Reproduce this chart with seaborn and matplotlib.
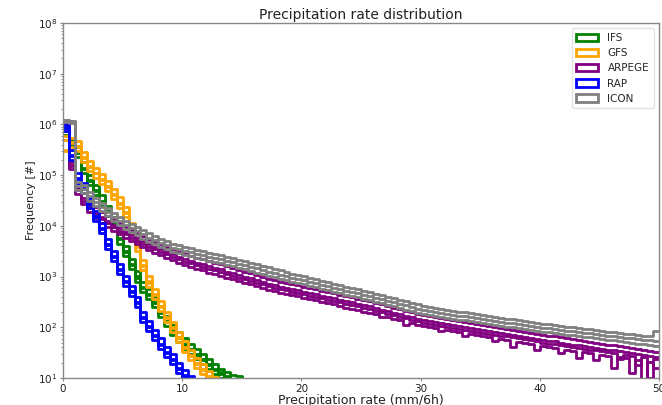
import numpy as np
import pandas as pd
import matplotlib
matplotlib.use("Agg")
import matplotlib.pyplot as plt
from matplotlib.patches import Patch
import seaborn as sns

# ---------------- data (log10 of counts per 0.5 mm/6h bin) ----------------
bin_width = 0.5
rate_range = (0, 50)

models = ["IFS", "GFS", "ARPEGE", "RAP", "ICON"]
colors = ["green", "orange", "purple", "blue", "gray"]

ifs_members = [
    [5.92, 5.60, 5.45, 5.15, 4.90, 4.70, 4.50, 4.30, 4.08, 3.76, 3.50, 3.25, 3.01, 2.80, 2.66, 2.50, 2.31, 2.12, 1.95, 1.81, 1.68, 1.58, 1.48, 1.38, 1.28, 1.18, 1.11, 1.04, 0.90],
    [5.80, 5.50, 5.35, 5.05, 4.80, 4.60, 4.40, 4.20, 3.97, 3.65, 3.40, 3.15, 2.90, 2.70, 2.56, 2.40, 2.21, 2.02, 1.85, 1.71, 1.58, 1.48, 1.38, 1.28, 1.18, 1.08, 1.00, 0.90],
    [5.97, 5.70, 5.55, 5.25, 5.00, 4.80, 4.60, 4.40, 4.18, 3.86, 3.60, 3.35, 3.11, 2.90, 2.76, 2.60, 2.41, 2.22, 2.05, 1.91, 1.78, 1.68, 1.58, 1.48, 1.38, 1.28, 1.18, 1.12, 1.06, 1.04, 0.90],
    [5.88, 5.58, 5.43, 5.13, 4.88, 4.68, 4.48, 4.28, 4.06, 3.74, 3.48, 3.23, 2.98, 2.78, 2.64, 2.48, 2.28, 2.10, 1.93, 1.78, 1.66, 1.55, 1.46, 1.36, 1.25, 1.15, 1.08, 1.00],
]

gfs_members = [
    [5.70, 5.64, 5.58, 5.36, 5.19, 5.05, 4.93, 4.79, 4.62, 4.46, 4.28, 3.96, 3.61, 3.22, 2.91, 2.66, 2.42, 2.21, 2.00, 1.81, 1.62, 1.46, 1.30, 1.18, 1.04],
    [5.50, 5.55, 5.47, 5.25, 5.08, 4.95, 4.82, 4.68, 4.52, 4.35, 4.17, 3.85, 3.50, 3.12, 2.80, 2.55, 2.32, 2.10, 1.90, 1.71, 1.52, 1.36, 1.20, 1.08, 0.90],
    [5.78, 5.74, 5.68, 5.46, 5.28, 5.15, 5.02, 4.88, 4.72, 4.56, 4.38, 4.06, 3.71, 3.32, 3.01, 2.76, 2.52, 2.31, 2.10, 1.91, 1.72, 1.56, 1.40, 1.28, 1.14, 1.02, 0.90],
    [5.48, 5.66, 5.56, 5.33, 5.16, 5.04, 4.90, 4.76, 4.60, 4.43, 4.25, 3.93, 3.58, 3.20, 2.88, 2.63, 2.40, 2.18, 1.98, 1.78, 1.60, 1.43, 1.28, 1.15, 1.00],
]

arpege_members = [
    [6.03, 5.25, 4.85, 4.65, 4.50, 4.38, 4.28, 4.20, 4.12, 4.05,
     3.98, 3.92, 3.86, 3.80, 3.74, 3.69, 3.64, 3.59, 3.54, 3.49,
     3.44, 3.41, 3.37, 3.34, 3.30, 3.27, 3.24, 3.20, 3.17, 3.13,
     3.10, 3.07, 3.03, 3.00, 2.96, 2.93, 2.90, 2.88, 2.85, 2.83,
     2.80, 2.77, 2.75, 2.72, 2.69, 2.67, 2.64, 2.61, 2.59, 2.56,
     2.53, 2.51, 2.48, 2.45, 2.42, 2.39, 2.36, 2.33, 2.30, 2.27,
     2.24, 2.22, 2.20, 2.18, 2.16, 2.14, 2.12, 2.10, 2.08, 2.06,
     2.04, 2.02, 2.00, 1.98, 1.97, 1.95, 1.93, 1.91, 1.89, 1.87,
     1.85, 1.83, 1.82, 1.80, 1.78, 1.76, 1.75, 1.73, 1.71, 1.70,
     1.68, 1.66, 1.65, 1.63, 1.61, 1.59, 1.58, 1.56, 1.54, 1.52],
    [5.98, 5.12, 4.63, 4.43, 4.28, 4.16, 4.06, 3.98, 3.90, 3.83,
     3.76, 3.70, 3.64, 3.58, 3.52, 3.47, 3.42, 3.37, 3.32, 3.27,
     3.22, 3.19, 3.15, 3.12, 3.08, 3.05, 3.02, 2.98, 2.95, 2.91,
     2.88, 2.85, 2.81, 2.78, 2.74, 2.71, 2.68, 2.66, 2.63, 2.61,
     2.58, 2.55, 2.53, 2.50, 2.47, 2.45, 2.42, 2.39, 2.37, 2.34,
     2.31, 2.29, 2.26, 2.20, 2.20, 2.17, 2.14, 2.05, 2.08, 2.05,
     2.02, 2.00, 1.98, 1.92, 1.94, 1.92, 1.90, 1.82, 1.86, 1.84,
     1.82, 1.80, 1.72, 1.76, 1.75, 1.62, 1.71, 1.69, 1.67, 1.55,
     1.63, 1.61, 1.60, 1.50, 1.56, 1.54, 1.40, 1.51, 1.49, 1.35,
     1.46, 1.44, 1.20, 1.41, 1.39, 1.10, 1.36, 0.95, 1.32, 1.20],
    [6.00, 5.18, 4.70, 4.50, 4.35, 4.23, 4.13, 4.05, 3.97, 3.90,
     3.83, 3.77, 3.71, 3.65, 3.59, 3.54, 3.49, 3.44, 3.39, 3.34,
     3.29, 3.26, 3.22, 3.19, 3.15, 3.12, 3.09, 3.05, 3.02, 2.98,
     2.95, 2.92, 2.88, 2.85, 2.81, 2.78, 2.75, 2.73, 2.70, 2.68,
     2.65, 2.62, 2.60, 2.57, 2.54, 2.52, 2.49, 2.46, 2.44, 2.41,
     2.38, 2.36, 2.33, 2.30, 2.27, 2.24, 2.21, 2.18, 2.15, 2.12,
     2.09, 2.07, 2.05, 2.03, 2.01, 1.99, 1.97, 1.95, 1.93, 1.91,
     1.89, 1.87, 1.85, 1.83, 1.82, 1.80, 1.78, 1.76, 1.74, 1.72,
     1.70, 1.68, 1.67, 1.65, 1.63, 1.61, 1.60, 1.58, 1.56, 1.55,
     1.53, 1.51, 1.50, 1.38, 1.46, 1.44, 1.25, 1.41, 1.00, 1.37],
    [6.02, 5.20, 4.75, 4.55, 4.40, 4.28, 4.18, 4.10, 4.02, 3.95,
     3.88, 3.82, 3.76, 3.70, 3.64, 3.59, 3.54, 3.49, 3.44, 3.39,
     3.34, 3.31, 3.27, 3.24, 3.20, 3.17, 3.14, 3.10, 3.07, 3.03,
     3.00, 2.97, 2.93, 2.90, 2.86, 2.83, 2.80, 2.78, 2.75, 2.73,
     2.70, 2.67, 2.65, 2.62, 2.59, 2.57, 2.54, 2.51, 2.49, 2.46,
     2.43, 2.41, 2.38, 2.35, 2.32, 2.29, 2.26, 2.23, 2.20, 2.17,
     2.14, 2.12, 2.10, 2.08, 2.06, 2.04, 2.02, 2.00, 1.98, 1.96,
     1.94, 1.92, 1.90, 1.88, 1.87, 1.85, 1.83, 1.81, 1.79, 1.77,
     1.75, 1.73, 1.72, 1.70, 1.68, 1.66, 1.65, 1.63, 1.61, 1.60,
     1.58, 1.56, 1.55, 1.53, 1.51, 1.49, 1.48, 1.46, 1.44, 1.42],
]

rap_members = [
    [5.95, 5.40, 4.95, 4.75, 4.45, 4.20, 3.95, 3.65, 3.40, 3.15, 2.92, 2.72, 2.50, 2.20, 2.02, 1.85, 1.68, 1.52, 1.38, 1.20, 1.05, 0.85],
    [5.88, 5.30, 4.85, 4.65, 4.35, 4.10, 3.85, 3.55, 3.30, 3.05, 2.82, 2.62, 2.40, 2.10, 1.92, 1.75, 1.58, 1.42, 1.28, 1.10, 0.92],
    [5.98, 5.50, 5.05, 4.85, 4.55, 4.30, 4.05, 3.75, 3.50, 3.25, 3.02, 2.82, 2.60, 2.30, 2.12, 1.95, 1.78, 1.62, 1.48, 1.30, 1.15, 1.04, 0.80],
    [5.93, 5.38, 4.93, 4.73, 4.43, 4.18, 3.93, 3.63, 3.38, 3.13, 2.90, 2.70, 2.48, 2.18, 2.00, 1.83, 1.66, 1.50, 1.35, 1.18, 1.02, 0.80],
]

icon_members = [
    [6.09, 6.07, 4.86, 4.80, 4.66, 4.55, 4.45, 4.35, 4.26, 4.18,
     4.10, 4.03, 3.97, 3.91, 3.85, 3.80, 3.75, 3.70, 3.65, 3.62,
     3.59, 3.56, 3.53, 3.50, 3.47, 3.44, 3.42, 3.39, 3.36, 3.33,
     3.30, 3.27, 3.24, 3.21, 3.18, 3.15, 3.12, 3.09, 3.06, 3.03,
     3.01, 2.98, 2.95, 2.92, 2.89, 2.86, 2.83, 2.80, 2.78, 2.75,
     2.72, 2.69, 2.66, 2.63, 2.60, 2.57, 2.54, 2.51, 2.48, 2.45,
     2.42, 2.40, 2.38, 2.37, 2.35, 2.33, 2.31, 2.30, 2.28, 2.26,
     2.24, 2.23, 2.21, 2.19, 2.17, 2.16, 2.14, 2.12, 2.10, 2.09,
     2.07, 2.06, 2.04, 2.03, 2.01, 2.00, 1.98, 1.97, 1.96, 1.94,
     1.93, 1.91, 1.90, 1.89, 1.87, 1.86, 1.84, 1.83, 1.82, 1.92],
    [6.05, 6.03, 4.70, 4.64, 4.50, 4.39, 4.29, 4.19, 4.10, 4.02,
     3.94, 3.87, 3.81, 3.75, 3.69, 3.64, 3.59, 3.54, 3.49, 3.46,
     3.43, 3.40, 3.37, 3.34, 3.31, 3.28, 3.26, 3.23, 3.20, 3.17,
     3.14, 3.11, 3.08, 3.05, 3.02, 2.99, 2.96, 2.93, 2.90, 2.87,
     2.85, 2.82, 2.79, 2.76, 2.73, 2.70, 2.67, 2.64, 2.62, 2.59,
     2.56, 2.53, 2.50, 2.47, 2.44, 2.41, 2.38, 2.35, 2.32, 2.29,
     2.26, 2.24, 2.22, 2.21, 2.19, 2.17, 2.15, 2.14, 2.12, 2.10,
     2.08, 2.07, 2.05, 2.03, 2.01, 2.00, 1.98, 1.96, 1.94, 1.93,
     1.91, 1.90, 1.88, 1.87, 1.85, 1.84, 1.82, 1.81, 1.80, 1.78,
     1.77, 1.75, 1.74, 1.73, 1.71, 1.70, 1.68, 1.67, 1.66, 1.64],
    [6.08, 6.06, 4.78, 4.72, 4.58, 4.47, 4.37, 4.27, 4.18, 4.10,
     4.02, 3.95, 3.89, 3.83, 3.77, 3.72, 3.67, 3.62, 3.57, 3.54,
     3.51, 3.48, 3.45, 3.42, 3.39, 3.36, 3.34, 3.31, 3.28, 3.25,
     3.22, 3.19, 3.16, 3.13, 3.10, 3.07, 3.04, 3.01, 2.98, 2.95,
     2.93, 2.90, 2.87, 2.84, 2.81, 2.78, 2.75, 2.72, 2.70, 2.67,
     2.64, 2.61, 2.58, 2.55, 2.52, 2.49, 2.46, 2.43, 2.40, 2.37,
     2.34, 2.32, 2.30, 2.29, 2.27, 2.25, 2.23, 2.22, 2.20, 2.18,
     2.16, 2.15, 2.13, 2.11, 2.09, 2.08, 2.06, 2.04, 2.02, 2.01,
     1.99, 1.98, 1.96, 1.95, 1.93, 1.92, 1.90, 1.89, 1.88, 1.86,
     1.85, 1.83, 1.82, 1.81, 1.79, 1.78, 1.76, 1.75, 1.74, 1.72],
]

all_members = [ifs_members, gfs_members, arpege_members, rap_members, icon_members]

# ---------------- plotting ----------------
sns.set_style("white")
plt.rcParams["font.family"] = ["DejaVu Sans"]

fig = plt.figure(figsize=(6.62, 4.05), dpi=100)
ax = fig.add_axes([63 / 662, 27 / 405, 596 / 662, 355 / 405])

for members, color in zip(all_members, colors):
    for log_counts in members:
        counts = 10 ** np.asarray(log_counts)
        rates = rate_range[0] + bin_width * (np.arange(len(counts)) + 0.5)
        df = pd.DataFrame({"rate": rates, "count": counts})
        sns.histplot(data=df, x="rate", weights="count", binwidth=bin_width,
                     binrange=rate_range, element="step", fill=False,
                     color=color, linewidth=2.0, ax=ax)

ax.set_yscale("log")
ax.set_xlim(0, 50)
ax.set_ylim(1e1, 1e8)
ax.set_xticks([0, 10, 20, 30, 40, 50])
ax.set_title("Precipitation rate distribution", fontsize=10, color="#222222", pad=3)
ax.set_xlabel("Precipitation rate (mm/6h)", fontsize=9, color="#222222", labelpad=0.5)
ax.set_ylabel("Frequency [#]", fontsize=8, color="#222222", labelpad=1.5)

for side in ["left", "bottom", "right", "top"]:
    ax.spines[side].set_color("#888888")
    ax.spines[side].set_linewidth(1.0)
ax.tick_params(axis="both", which="both", direction="out", colors="#888888",
               labelcolor="#222222", labelsize=7.5)
ax.tick_params(axis="both", which="major", length=2.5, width=0.8, pad=1.5,
               bottom=True, left=True)
ax.tick_params(axis="y", which="minor", length=1.8, width=0.6, left=True)
ax.yaxis.set_minor_locator(matplotlib.ticker.LogLocator(base=10, subs=np.arange(2, 10), numticks=20))

handles = [Patch(facecolor="none", edgecolor=c, linewidth=2, label=m) for m, c in zip(models, colors)]
ax.legend(handles=handles, loc="upper right", fontsize=7.5, frameon=True, framealpha=0.8,
          edgecolor="#dddddd", handlelength=2.1, handletextpad=0.9, borderpad=0.45,
          labelspacing=0.5, borderaxespad=0.5)

fig.savefig("out.png", dpi=100)
